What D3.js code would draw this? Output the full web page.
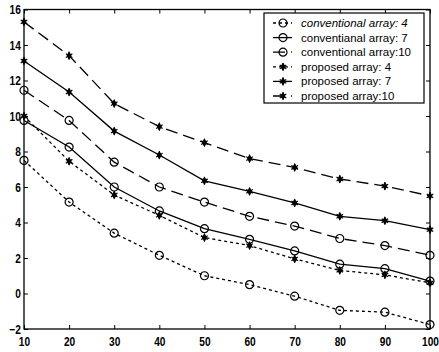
<!DOCTYPE html>
<html>
<head>
<meta charset="utf-8">
<script src="https://cdn.jsdelivr.net/npm/d3@7"></script>
<style>
  body { margin: 0; background: #fff; }
  svg { display: block; font-family: "Liberation Sans", Arial, sans-serif; }
  .axis path { display: none; }
  .axis line { stroke: #000; stroke-width: 1; }
  .axis text { font-size: 13px; font-weight: bold; fill: #000; }
  .legend text { font-size: 11.5px; fill: #000; }
</style>
</head>
<body>
<svg id="chart"></svg>
<script>
// x values
const xValues = [10, 20, 30, 40, 50, 60, 70, 80, 90, 100];

// series values
const conv4 = [7.5, 5.15, 3.4, 2.15, 1.0, 0.5, -0.15, -0.95, -1.05, -1.75];
const conv7 = [9.75, 8.25, 6.0, 4.65, 3.65, 3.05, 2.4, 1.65, 1.4, 0.7];
const conv10 = [11.45, 9.75, 7.4, 6.0, 5.15, 4.35, 3.8, 3.1, 2.7, 2.15];
const prop4 = [10.0, 7.45, 5.55, 4.4, 3.15, 2.7, 1.95, 1.3, 1.05, 0.6];
const prop7 = [13.1, 11.35, 9.15, 7.8, 6.35, 5.75, 5.1, 4.35, 4.1, 3.6];
const prop10 = [15.3, 13.4, 10.7, 9.4, 8.5, 7.6, 7.1, 6.45, 6.05, 5.5];

const seriesNames = [
  "conventional array: 4",
  "conventianal array: 7",
  "conventional array:10",
  "proposed array: 4",
  "proposed array: 7",
  "proposed array:10"
];

const xTicks = [10, 20, 30, 40, 50, 60, 70, 80, 90, 100];
const yTicks = [-2, 0, 2, 4, 6, 8, 10, 12, 14, 16];

const config = {
  width: 439,
  height: 352,
  margin: { top: 9.5, right: 9, bottom: 23, left: 24 }
};

const series = [
  { name: seriesNames[0], values: conv4, marker: "circle", dash: "3,3", italic: true },
  { name: seriesNames[1], values: conv7, marker: "circle", dash: null },
  { name: seriesNames[2], values: conv10, marker: "circle", dash: "12,6" },
  { name: seriesNames[3], values: prop4, marker: "star", dash: "3,3" },
  { name: seriesNames[4], values: prop7, marker: "star", dash: null },
  { name: seriesNames[5], values: prop10, marker: "star", dash: "12,6" }
];

const innerW = config.width - config.margin.left - config.margin.right;
const innerH = config.height - config.margin.top - config.margin.bottom;

const svg = d3.select("#chart")
  .attr("width", config.width)
  .attr("height", config.height);

const chart = svg.append("g")
  .attr("transform", `translate(${config.margin.left},${config.margin.top})`);

const xScale = d3.scaleLinear().domain([10, 100]).range([0, innerW]);
const yScale = d3.scaleLinear().domain([-2, 16]).range([innerH, 0]);

// axes with inward ticks on all four sides
const xAxisG = chart.append("g")
  .attr("class", "axis")
  .attr("transform", `translate(0,${innerH})`)
  .call(d3.axisBottom(xScale).tickValues(xTicks).tickSizeInner(-4).tickSizeOuter(0).tickPadding(8));

const yAxisG = chart.append("g")
  .attr("class", "axis")
  .call(d3.axisLeft(yScale).tickValues(yTicks).tickSizeInner(-4).tickSizeOuter(0).tickPadding(4));

// condensed look of the tick labels
xAxisG.selectAll("text").attr("transform", "scale(0.78,1)");
yAxisG.selectAll("text").attr("transform", "scale(0.78,1)");

chart.append("g")
  .attr("class", "axis")
  .call(d3.axisTop(xScale).tickValues(xTicks).tickSizeInner(-4).tickSizeOuter(0).tickFormat(""));

chart.append("g")
  .attr("class", "axis")
  .attr("transform", `translate(${innerW},0)`)
  .call(d3.axisRight(yScale).tickValues(yTicks).tickSizeInner(-4).tickSizeOuter(0).tickFormat(""));

// box
chart.append("rect")
  .attr("width", innerW)
  .attr("height", innerH)
  .attr("fill", "none")
  .attr("stroke", "#000")
  .attr("stroke-width", 1.3);

const line = d3.line()
  .x((d, i) => xScale(xValues[i]))
  .y(d => yScale(d));

const starPath = d3.symbol().type(d3.symbolDiamond).size(22)();
const astPath = d3.symbol().type(d3.symbolAsterisk).size(40)();

function drawMarker(g, type) {
  if (type === "circle") {
    g.append("circle")
      .attr("r", 4)
      .attr("fill", "none")
      .attr("stroke", "#000")
      .attr("stroke-width", 1.2);
  } else {
    g.append("path").attr("d", starPath).attr("fill", "#000");
    g.append("path").attr("d", astPath).attr("fill", "none")
      .attr("stroke", "#000").attr("stroke-width", 1.2);
  }
}

series.forEach(s => {
  chart.append("path")
    .datum(s.values)
    .attr("d", line)
    .attr("fill", "none")
    .attr("stroke", "#000")
    .attr("stroke-width", 1.3)
    .attr("stroke-dasharray", s.dash);

  s.values.forEach((v, i) => {
    const g = chart.append("g")
      .attr("transform", `translate(${xScale(xValues[i])},${yScale(v)})`);
    drawMarker(g, s.marker);
  });
});

// legend
const legend = svg.append("g")
  .attr("class", "legend")
  .attr("transform", "translate(264,13)");

legend.append("rect")
  .attr("width", 160)
  .attr("height", 90)
  .attr("fill", "#fff")
  .attr("stroke", "#000")
  .attr("stroke-width", 1.2);

series.forEach((s, i) => {
  const row = legend.append("g")
    .attr("transform", `translate(0,${10 + i * 14.6})`);
  row.append("line")
    .attr("x1", 9).attr("x2", 28)
    .attr("stroke", "#000")
    .attr("stroke-width", 1.3)
    .attr("stroke-dasharray", s.dash);
  const m = row.append("g").attr("transform", "translate(19,0)");
  drawMarker(m, s.marker);
  row.append("text")
    .attr("x", 37)
    .attr("dy", "0.35em")
    .style("font-style", s.italic ? "italic" : null)
    .text(s.name);
});
</script>
</body>
</html>
